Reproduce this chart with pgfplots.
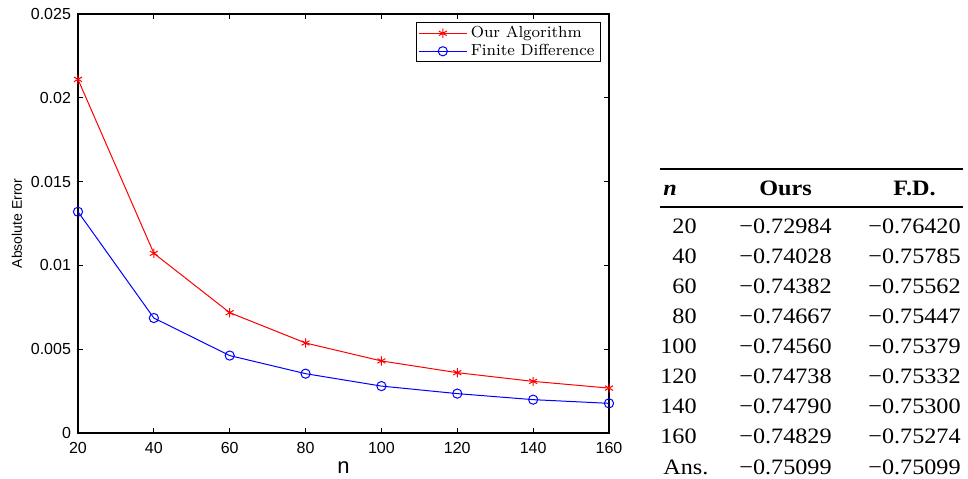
\documentclass[border=0pt]{standalone}
\usepackage{fontspec}
\usepackage{pgfplots}
\pgfplotsset{compat=1.18}
\newfontfamily\helv{Liberation Sans}
\newfontfamily\tms[FakeStretch=1.1]{Liberation Serif}

\begin{document}
\begin{tikzpicture}
\useasboundingbox (0,0) rectangle (484pt,239pt);
\begin{axis}[
  at={(39pt,22.5pt)}, anchor=south west,
  scale only axis, width=265.5pt, height=209.5pt,
  xmin=20, xmax=160, ymin=0, ymax=0.025,
  xtick={20,40,60,80,100,120,140,160},
  ytick={0,0.005,0.01,0.015,0.02,0.025},
  scaled y ticks=false,
  yticklabel style={/pgf/number format/fixed,/pgf/number format/precision=3},
  /pgf/number format/assume math mode=true,
  tick label style={font=\fontsize{8}{9}\helv},
  xticklabel style={yshift=-1pt},
  tick align=inside, major tick length=2.5pt,
  axis line style={line width=0.7pt}, every tick/.style={black,line width=0.6pt},
  xlabel={n}, ylabel={Absolute Error},
  xlabel style={font=\fontsize{11}{12}\helv, at={(axis description cs:0.5,-0.082)}, anchor=center},
  ylabel style={font=\fontsize{7}{8}\helv, at={(axis description cs:-0.115,0.5)}, anchor=center},
  legend cell align=left,
  legend style={at={(1,1)}, anchor=north east, xshift=-4pt, yshift=-4pt,
    draw=black, line width=0.5pt, font=\fontsize{8}{8}\selectfont,
    inner sep=1.2pt, row sep=0.6pt, nodes={inner xsep=1.8pt, inner ysep=0.6pt}},
  legend image code/.code={\draw[mark repeat=2,mark phase=2,#1] plot coordinates {(0cm,0cm) (0.42cm,0cm) (0.84cm,0cm)};},
]
\addplot[red, line width=0.5pt, mark=asterisk, mark size=2.3pt] coordinates {
  (20,0.0211) (40,0.01072) (60,0.00718) (80,0.00537)
  (100,0.0043) (120,0.0036) (140,0.00308) (160,0.00268)};
\addlegendentry{Our Algorithm}
\addplot[blue, line width=0.5pt, mark=o, mark size=2.3pt] coordinates {
  (20,0.0132) (40,0.00686) (60,0.00462) (80,0.00354)
  (100,0.0028) (120,0.00235) (140,0.00199) (160,0.00177)};
\addlegendentry{Finite Difference}
\end{axis}

% table on the right
\draw[line width=1pt] (330pt,154.5pt) -- (481.5pt,154.5pt);
\draw[line width=1pt] (330pt,135.3pt) -- (481.5pt,135.3pt);
\begin{scope}[every node/.style={inner sep=0pt, font=\fontsize{11}{13}\tms}]
\node[anchor=base west] at (331.5pt,141.5pt) {\bfseries\itshape n};
\node[anchor=base] at (392.75pt,141.5pt) {\bfseries Ours};
\node[anchor=base] at (457.25pt,141.5pt) {\bfseries F.D.};
\foreach \n/\a/\b [count=\i] in {20/72984/76420, 40/74028/75785, 60/74382/75562,
  80/74667/75447, 100/74560/75379, 120/74738/75332, 140/74790/75300, 160/74829/75274} {
  \pgfmathsetmacro\yy{122.5-15.06*(\i-1)}
  \node[anchor=base east] at (348.5pt,\yy pt) {\n};
  \node[anchor=base] at (392.75pt,\yy pt) {−0.\a};
  \node[anchor=base] at (457.25pt,\yy pt) {−0.\b};
}
\node[anchor=base west] at (331.5pt,2pt) {Ans.};
\node[anchor=base] at (392.75pt,2pt) {−0.75099};
\node[anchor=base] at (457.25pt,2pt) {−0.75099};
\end{scope}
\end{tikzpicture}
\end{document}
